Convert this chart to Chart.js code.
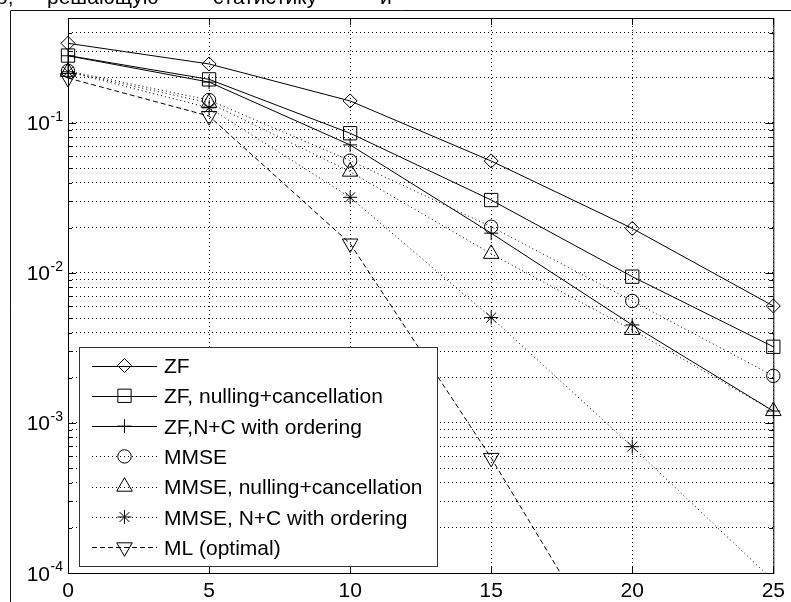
<!DOCTYPE html>
<html lang="ru">
<head>
<meta charset="utf-8">
<title>BER vs SNR</title>
<script src="https://cdn.jsdelivr.net/npm/chart.js@4.4.0/dist/chart.umd.min.js"></script>
<style>
  html, body { margin: 0; padding: 0; background: #fff; }
  #wrap { position: relative; width: 791px; height: 602px; overflow: hidden; }
</style>
</head>
<body>
<div id="wrap"><canvas id="berChart" width="791" height="602"></canvas></div>
<script>
// Данные (ОСШ в дБ, вероятность ошибки)
const snrDb = [0, 5, 10, 15, 20, 25];
const berZF = [0.339, 0.247, 0.140, 0.0557, 0.0198, 0.00602];
const berZFNC = [0.281, 0.195, 0.0853, 0.0306, 0.00944, 0.00322];
const berZFNCOrd = [0.280, 0.187, 0.0713, 0.0184, 0.0045, 0.0012];
const berMMSE = [0.222, 0.142, 0.056, 0.0203, 0.0065, 0.00206];
const berMMSENC = [0.219, 0.136, 0.0473, 0.0134, 0.00417, 0.0012];
const berMMSENCOrd = [0.219, 0.126, 0.0319, 0.00504, 0.000695, 0.000089];
const berML = [0.199, 0.111, 0.0157, 0.000585, 0.000016];

const seriesNames = [
    'ZF',
    'ZF, nulling+cancellation',
    'ZF,N+C with ordering',
    'MMSE',
    'MMSE, nulling+cancellation',
    'MMSE, N+C with ordering',
    'ML (optimal)'
];

// Подписи оси Y (10 в степени)
const yDecades = [1e-4, 1e-3, 1e-2, 1e-1];
const yExponents = ['-4', '-3', '-2', '-1'];
const yMultipliers = [1, 2, 3, 4, 5, 6, 7, 8, 9];

// Обрывок текста над рисунком
const headerWords = ['о,', 'решающую', 'статистику', 'и'];

const FONT = "'Liberation Sans', Arial, sans-serif";

// Построение точек серии
function toPoints(values) {
    return values.map((v, i) => ({ x: snrDb[i], y: v }));
}

function makeSeries(label, values, dash, pointStyle, radius, rotation) {
    return {
        label: label,
        data: toPoints(values),
        borderColor: '#000',
        borderWidth: 1,
        borderDash: dash,
        pointStyle: pointStyle,
        pointRadius: radius,
        pointHoverRadius: radius,
        pointRotation: rotation || 0,
        pointBorderColor: '#000',
        pointBackgroundColor: 'rgba(0,0,0,0)',
        pointBorderWidth: 1,
        fill: false,
        tension: 0,
        clip: { left: 14, right: 14, top: 14, bottom: 0 }
    };
}

const solid = [];
const dotted = [1, 3];
const dashed = [5, 3];

const datasets = [
    makeSeries(seriesNames[0], berZF, solid, 'rectRot', 7),
    makeSeries(seriesNames[1], berZFNC, solid, 'rect', 9.4),
    makeSeries(seriesNames[2], berZFNCOrd, solid, 'cross', 7),
    makeSeries(seriesNames[3], berMMSE, dotted, 'circle', 6.7),
    makeSeries(seriesNames[4], berMMSENC, dotted, 'triangle', 9),
    makeSeries(seriesNames[5], berMMSENCOrd, dotted, 'star', 7),
    makeSeries(seriesNames[6], berML, dashed, 'triangle', 9, 180)
];

// Рисование маркера (запасной вариант, если helpers недоступны)
function drawMarker(ctx, ds, x, y) {
    const opts = {
        pointStyle: ds.pointStyle,
        rotation: ds.pointRotation,
        radius: ds.pointRadius,
        borderWidth: ds.pointBorderWidth
    };
    ctx.fillStyle = ds.pointBackgroundColor;
    ctx.strokeStyle = ds.pointBorderColor;
    ctx.lineWidth = ds.pointBorderWidth;
    ctx.setLineDash([]);
    if (Chart.helpers && Chart.helpers.drawPoint) {
        Chart.helpers.drawPoint(ctx, opts, x, y);
    } else {
        ctx.beginPath();
        ctx.arc(x, y, ds.pointRadius, 0, Math.PI * 2);
        ctx.stroke();
    }
}

// Рамка осей, засечки, подписи, легенда в стиле MATLAB
const matlabStyle = {
    id: 'matlabStyle',
    afterDatasetsDraw(chart) {
        const { ctx, chartArea: a, scales } = chart;
        const xs = scales.x;
        const ys = scales.y;
        ctx.save();
        ctx.setLineDash([]);
        ctx.strokeStyle = '#000';
        ctx.lineWidth = 1;
        ctx.strokeRect(a.left + 0.5, a.top + 0.5, a.right - a.left, a.bottom - a.top);

        // засечки внутрь
        ctx.beginPath();
        xs.ticks.forEach(t => {
            const px = Math.round(xs.getPixelForValue(t.value)) + 0.5;
            ctx.moveTo(px, a.bottom);
            ctx.lineTo(px, a.bottom - 7);
            ctx.moveTo(px, a.top);
            ctx.lineTo(px, a.top + 7);
        });
        ys.ticks.forEach(t => {
            const py = Math.round(ys.getPixelForValue(t.value)) + 0.5;
            const len = yDecades.includes(t.value) ? 8 : 4;
            ctx.moveTo(a.left, py);
            ctx.lineTo(a.left + len, py);
            ctx.moveTo(a.right, py);
            ctx.lineTo(a.right - len, py);
        });
        ctx.stroke();

        // подписи оси Y: 10 со степенью
        ctx.fillStyle = '#000';
        yDecades.forEach((v, i) => {
            const py = ys.getPixelForValue(v);
            ctx.font = '21px ' + FONT;
            ctx.textAlign = 'right';
            ctx.textBaseline = 'alphabetic';
            ctx.fillText('10', 50, py + 7.5);
            ctx.font = '14px ' + FONT;
            ctx.textAlign = 'left';
            ctx.fillText(yExponents[i], 50.5, py - 2);
        });
        ctx.restore();
    },
    afterDraw(chart) {
        const ctx = chart.ctx;
        ctx.save();

        // легенда
        const box = { left: 79, top: 347, right: 437, bottom: 566 };
        ctx.setLineDash([]);
        ctx.fillStyle = '#fff';
        ctx.fillRect(box.left, box.top, box.right - box.left, box.bottom - box.top);
        ctx.strokeStyle = '#333';
        ctx.lineWidth = 1;
        ctx.strokeRect(box.left + 0.5, box.top + 0.5, box.right - box.left, box.bottom - box.top);

        chart.data.datasets.forEach((ds, i) => {
            const rowY = 365.5 + i * 30.3;
            ctx.save();
            ctx.strokeStyle = ds.borderColor;
            ctx.lineWidth = ds.borderWidth;
            ctx.setLineDash(ds.borderDash);
            ctx.beginPath();
            ctx.moveTo(92, Math.round(rowY) + 0.5);
            ctx.lineTo(157, Math.round(rowY) + 0.5);
            ctx.stroke();
            ctx.restore();
            drawMarker(ctx, ds, 124.5, rowY);
            ctx.fillStyle = '#000';
            ctx.font = '21px ' + FONT;
            ctx.textAlign = 'left';
            ctx.textBaseline = 'alphabetic';
            ctx.fillText(ds.label, 164, rowY + 7.5);
        });

        // внешняя рамка страницы
        ctx.strokeStyle = '#111';
        ctx.lineWidth = 1;
        ctx.beginPath();
        ctx.moveTo(10.5, 602);
        ctx.lineTo(10.5, 10.5);
        ctx.lineTo(791, 10.5);
        ctx.stroke();

        // текст над рисунком (обрезан сверху)
        const wordX = [-4, 47, 213, 380];
        ctx.fillStyle = '#000';
        ctx.font = '21px ' + FONT;
        ctx.textAlign = 'left';
        ctx.textBaseline = 'alphabetic';
        headerWords.forEach((w, i) => ctx.fillText(w, wordX[i], 4));

        ctx.restore();
    }
};

const ctx = document.getElementById('berChart').getContext('2d');
const berChart = new Chart(ctx, {
    type: 'line',
    data: { datasets: datasets },
    options: {
        responsive: false,
        animation: false,
        events: [],
        layout: { padding: { top: 18, right: 16, bottom: 0, left: 0 } },
        plugins: {
            legend: { display: false },
            tooltip: { enabled: false },
            title: { display: false }
        },
        scales: {
            x: {
                type: 'linear',
                min: 0,
                max: 25,
                ticks: {
                    stepSize: 5,
                    color: '#000',
                    padding: 6,
                    font: { family: FONT, size: 21 }
                },
                grid: { color: '#000', lineWidth: 1, drawTicks: false },
                border: { display: false, dash: [1, 3] },
                afterFit: (scale) => { scale.height = 29; }
            },
            y: {
                type: 'logarithmic',
                min: 1e-4,
                max: 0.5,
                ticks: { display: false },
                grid: { color: '#000', lineWidth: 1, drawTicks: false },
                border: { display: false, dash: [1, 3] },
                afterBuildTicks: (scale) => {
                    const vals = [];
                    yDecades.forEach(d => yMultipliers.forEach(m => {
                        const v = d * m;
                        if (v < 0.5) vals.push({ value: v });
                    }));
                    scale.ticks = vals;
                },
                afterFit: (scale) => { scale.width = 68; }
            }
        }
    },
    plugins: [matlabStyle]
});
</script>
</body>
</html>
